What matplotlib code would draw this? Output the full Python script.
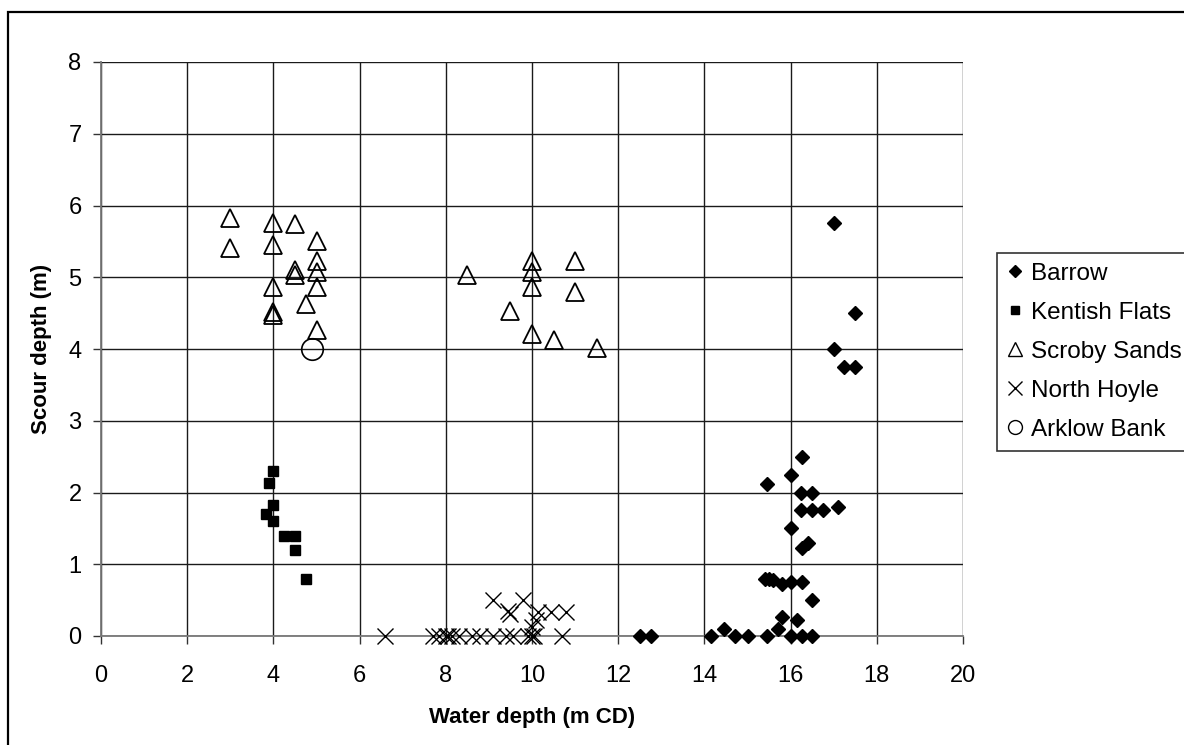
## SCOUR DEPTH VS WATER DEPTH - OFFSHORE WIND FARMS
import matplotlib
matplotlib.use('Agg')
import matplotlib.pyplot as plt
from matplotlib.lines import Line2D
from matplotlib.patches import Rectangle

plt.rcParams['font.family'] = ['Liberation Sans', 'DejaVu Sans']

## DATA:
barrow_x = [17.0, 17.5, 17.0, 17.25, 17.5, 16.27, 16.0, 15.45, 16.25, 16.5, 16.25, 16.5, 16.75, 17.1,
            16.0, 16.4, 16.27, 15.4, 15.5, 15.6, 15.8, 16.0, 16.27, 16.5, 15.8, 16.15, 15.7,
            16.0, 16.27, 16.5, 15.45, 15.0, 14.7, 14.45, 14.15, 12.5, 12.75]
barrow_y = [5.75, 4.5, 4.0, 3.75, 3.75, 2.5, 2.25, 2.12, 2.0, 2.0, 1.75, 1.75, 1.75, 1.8,
            1.5, 1.3, 1.23, 0.8, 0.8, 0.78, 0.72, 0.75, 0.75, 0.5, 0.27, 0.22, 0.1,
            0.0, 0.0, 0.0, 0.0, 0.0, 0.0, 0.1, 0.0, 0.0, 0.0]

kentish_x = [4.0, 3.9, 4.0, 3.82, 4.0, 4.25, 4.5, 4.5, 4.75]
kentish_y = [2.3, 2.13, 1.82, 1.7, 1.6, 1.4, 1.4, 1.2, 0.8]

scroby_x = [3.0, 3.0, 4.0, 4.5, 4.0, 5.0, 5.0, 4.5, 4.5, 5.0, 4.0, 5.0, 4.75, 4.0, 4.0, 5.0,
            8.5, 10.0, 10.0, 10.0, 11.0, 11.0, 9.5, 10.0, 10.5, 11.5]
scroby_y = [5.83, 5.41, 5.76, 5.74, 5.45, 5.5, 5.22, 5.1, 5.03, 5.08, 4.86, 4.86, 4.63, 4.52, 4.47, 4.27,
            5.03, 5.22, 5.08, 4.86, 5.22, 4.8, 4.53, 4.21, 4.12, 4.02]

hoyle_x = [6.6, 7.7, 7.85, 8.0, 8.05, 8.15, 8.3, 8.6, 8.8, 9.1, 9.4, 9.55, 9.9, 10.0, 10.05, 10.7,
           9.1, 9.8, 9.45, 9.5, 10.15, 10.45, 10.8, 10.1, 10.0]
hoyle_y = [0.0] * 16 + [0.5, 0.5, 0.35, 0.3, 0.33, 0.33, 0.33, 0.22, 0.12]

arklow_x = [4.9]
arklow_y = [4.0]

series_names = ['Barrow', 'Kentish Flats', 'Scroby Sands', 'North Hoyle', 'Arklow Bank']

## FIGURE:
W, H = 1184, 745
fig = plt.figure(figsize=(W / 100, H / 100), dpi=100)
ax = fig.add_axes([101 / W, 1 - 636 / H, (963 - 101) / W, (636 - 62) / H])

ax.plot(barrow_x, barrow_y, ls='none', marker='D', ms=7, color='black', clip_on=False, zorder=3)
ax.plot(kentish_x, kentish_y, ls='none', marker='s', ms=6.5, color='black', clip_on=False, zorder=3)
ax.plot(scroby_x, scroby_y, ls='none', marker='^', ms=13, mfc='none', mec='black', mew=1.3,
        clip_on=False, zorder=3)
ax.plot(hoyle_x, hoyle_y, ls='none', marker='x', ms=12, mec='black', mew=1.0, clip_on=False, zorder=3)
ax.plot(arklow_x, arklow_y, ls='none', marker='o', ms=15.5, mfc='none', mec='black', mew=1.2,
        clip_on=False, zorder=3)

ax.set_xlim(0, 20)
ax.set_ylim(0, 8)
ax.set_xticks(range(0, 21, 2))
ax.set_yticks(range(0, 9))
ax.grid(True, color='#1a1a1a', lw=1.0)
ax.set_axisbelow(True)
for s in ['top', 'right']:
    ax.spines[s].set_visible(False)
for s in ['left', 'bottom']:
    ax.spines[s].set_color('#777777')
    ax.spines[s].set_linewidth(1.3)
ax.tick_params(direction='out', length=6, width=1, color='#333333', labelsize=17)
ax.tick_params(axis='x', pad=15)
ax.tick_params(axis='y', pad=8)

ax.set_xlabel('Water depth (m CD)', fontsize=16, fontweight='bold', labelpad=14)
ax.set_ylabel('Scour depth (m)', fontsize=16, fontweight='bold', labelpad=12)

## LEGEND:
handles = [
    Line2D([], [], ls='none', marker='D', ms=6, color='black'),
    Line2D([], [], ls='none', marker='s', ms=6, color='black'),
    Line2D([], [], ls='none', marker='^', ms=10, mfc='none', mec='black', mew=1.0),
    Line2D([], [], ls='none', marker='x', ms=10, mec='black', mew=1.0),
    Line2D([], [], ls='none', marker='o', ms=10, mfc='none', mec='black', mew=1.0),
]
leg = fig.legend(handles, series_names, loc='upper left',
                 bbox_to_anchor=(997 / W, 1 - 253 / H), borderaxespad=0,
                 fontsize=17.5, frameon=True, fancybox=False, edgecolor='black',
                 handlelength=0.7, handletextpad=0.3, borderpad=0.4, labelspacing=0.7)
leg.get_frame().set_linewidth(1.2)

## OUTER BORDER:
fig.patches.append(Rectangle((8 / W, -0.1), 1.2, 1 - 12 / H + 0.1, transform=fig.transFigure,
                             fill=False, edgecolor='black', lw=1.6))

fig.savefig('out.png', dpi=100)
